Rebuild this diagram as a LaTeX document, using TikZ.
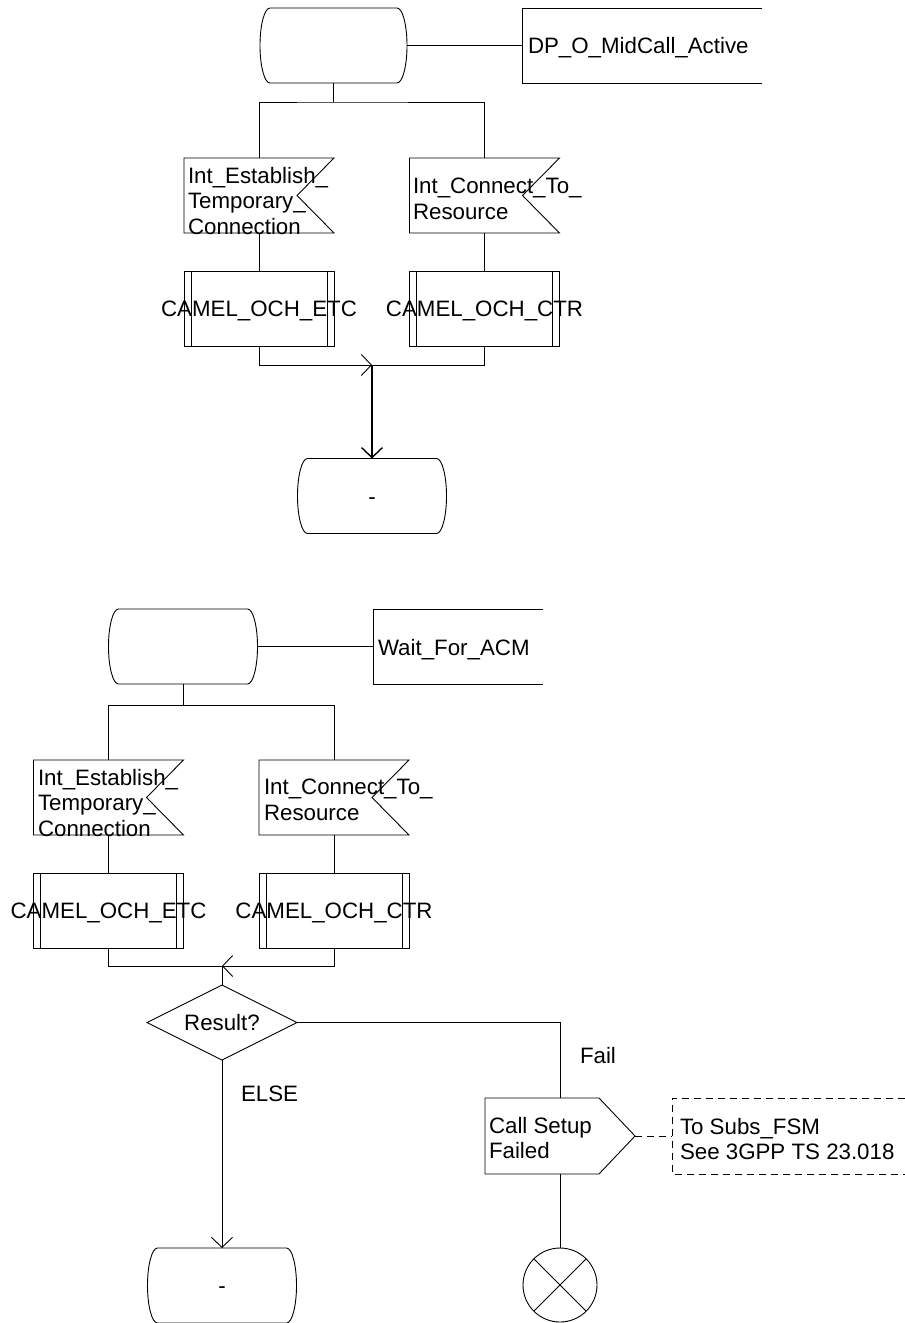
\documentclass[tikz,border=0pt]{standalone}
\usepackage{fontspec}
\setmainfont{Liberation Sans}
\usetikzlibrary{arrows.meta,shapes.geometric}

% outline of an SDL state (straight top/bottom, bulging sides)
\newcommand\drawState[1]{%
  \draw[conn] ([xshift=10pt]#1.north west) -- ([xshift=-10pt]#1.north east)
    arc[start angle=90, end angle=-90, x radius=10pt, y radius=37.5pt]
    -- ([xshift=10pt]#1.south west)
    arc[start angle=270, end angle=90, x radius=10pt, y radius=37.5pt] -- cycle;}
% outline of an SDL input (notch on the right)
\newcommand\drawInput[1]{%
  \draw[conn] (#1.north west) -- (#1.north east) -- ([xshift=-37pt]#1.east)
    -- (#1.south east) -- (#1.south west) -- cycle;}
% outline of an SDL procedure call (double side bars)
\newcommand\drawProc[1]{%
  \draw[conn] (#1.north west) rectangle (#1.south east);
  \draw[conn] ([xshift=7pt]#1.north west) -- ([xshift=7pt]#1.south west);
  \draw[conn] ([xshift=-7pt]#1.north east) -- ([xshift=-7pt]#1.south east);}
% outline of an SDL output (point on the right)
\newcommand\drawOutput[1]{%
  \draw[conn] (#1.north west) -- ([xshift=-36pt]#1.north east) -- (#1.east)
    -- ([xshift=-36pt]#1.south east) -- (#1.south west) -- cycle;}
% open-right comment bracket
\newcommand\drawNote[2][]{%
  \draw[conn,#1] (#2.north east) -- (#2.north west) -- (#2.south west) -- (#2.south east);}

\begin{document}
\begin{tikzpicture}[x=1pt,y=-1pt,
  base/.style={inner sep=0pt, outer sep=0pt, font=\fontsize{22.3}{25.5}\selectfont},
  shp/.style={base, rectangle, minimum height=75pt},
  sdlstate/.style={shp, minimum width=149pt, text height=16pt, text depth=0pt},
  sdlinput/.style={shp, minimum width=150pt},
  sdlproc/.style={shp, minimum width=150pt, text height=16pt, text depth=0pt},
  sdloutput/.style={shp, minimum width=150pt, minimum height=76pt},
  sdlnote/.style={shp},
  sdldecision/.style={base, diamond, aspect=2, draw, conn, minimum width=150pt,
    minimum height=75pt, text height=16pt, text depth=0pt},
  sdlstop/.style={base, circle, draw, conn, minimum size=74pt},
  txt/.style={base, align=left, anchor=north west},
  lbl/.style={base, anchor=base west},
  conn/.style={line width=0.9pt, black},
  arr/.style={conn, -{Straight Barb[length=10pt, width=21pt]}},
  notedash/.style={dash pattern=on 7pt off 5pt},
]
\useasboundingbox (0,0) rectangle (905,1323);

%================ upper diagram ================
\node[sdlstate, minimum width=147pt] (s1) at (333.5,45.5) {};
\drawState{s1}
\node[sdlnote, minimum width=240pt] (c1) at (642,45.5) {};
\drawNote{c1}
\node[lbl] (c1t) at (528,53) {DP\_O\_MidCall\_Active};
\draw[conn] (s1.east) -- (c1.west);

\coordinate (br1) at (333.5,102);
\draw[conn] (s1.south) -- (br1);

\node[sdlinput] (i1) at (259,195.5) {};
\drawInput{i1}
\node[txt] (i1t) at (188,167) {Int\_Establish\_\\Temporary\_\\Connection};
\node[sdlinput] (i2) at (484.5,195.5) {};
\drawInput{i2}
\node[txt] (i2t) at (413,178) {Int\_Connect\_To\_\\Resource};
\draw[conn] (i1.north) |- (br1) -| (i2.north);

\node[sdlproc] (p1) at (259,308.5) {\makebox[0pt]{CAMEL\_OCH\_ETC}};
\drawProc{p1}
\node[sdlproc] (p2) at (484.5,308.5) {\makebox[0pt]{CAMEL\_OCH\_CTR}};
\drawProc{p2}
\draw[conn] (i1.south) -- (p1.north);
\draw[conn] (i2.south) -- (p2.north);

\coordinate (m1) at (372,365);
\node[sdlstate] (s2) at (372,496) {-};
\drawState{s2}
\draw[arr] (p1.south) |- (m1);
\draw[conn] (p2.south) |- (m1);
\draw[arr, line width=1.4pt] (m1) -- (s2.north);

%================ lower diagram ================
\node[sdlstate] (s3) at (183,646.5) {};
\drawState{s3}
\node[sdlnote, minimum width=170pt] (c2) at (458,646.5) {};
\drawNote{c2}
\node[lbl] (c2t) at (378,655) {Wait\_For\_ACM};
\draw[conn] (s3.east) -- (c2.west);

\coordinate (br2) at (183,705);
\draw[conn] (s3.south) -- (br2);

\node[sdlinput] (i3) at (108.5,797.5) {};
\drawInput{i3}
\node[txt] (i3t) at (38,769) {Int\_Establish\_\\Temporary\_\\Connection};
\node[sdlinput] (i4) at (334,797.5) {};
\drawInput{i4}
\node[txt] (i4t) at (264,779) {Int\_Connect\_To\_\\Resource};
\draw[conn] (i3.north) |- (br2) -| (i4.north);

\node[sdlproc] (p3) at (108.5,910.5) {\makebox[0pt]{CAMEL\_OCH\_ETC}};
\drawProc{p3}
\node[sdlproc] (p4) at (334,910.5) {\makebox[0pt]{CAMEL\_OCH\_CTR}};
\drawProc{p4}
\draw[conn] (i3.south) -- (p3.north);
\draw[conn] (i4.south) -- (p4.north);

\coordinate (m2) at (222,966);
\draw[conn] (p3.south) |- (m2);
\draw[arr] (p4.south) |- (m2);

\node[sdldecision] (d1) at (222,1022.5) {Result?};
\draw[conn] (m2) -- (d1.north);

\node[sdlstate] (s4) at (222,1285.5) {-};
\drawState{s4}
\draw[arr] (d1.south) -- (s4.north);
\node[lbl] (elseL) at (241,1101) {ELSE};

\node[sdloutput] (o1) at (560,1136) {};
\drawOutput{o1}
\node[txt] (o1t) at (489,1117) {Call Setup\\Failed};
\draw[conn] (d1.east) -| (o1.north);
\node[lbl] (failL) at (580,1063) {Fail};

\node[sdlnote, minimum width=233pt, minimum height=76pt] (n1) at (788.5,1136) {};
\drawNote[notedash]{n1}
\node[txt] (n1t) at (680,1118) {To Subs\_FSM\\See 3GPP TS 23.018};
\draw[conn, notedash] (o1.east) -- (n1.west);

\node[sdlstop] (t1) at (560,1285) {};
\draw[conn] (t1.north west) -- (t1.south east);
\draw[conn] (t1.north east) -- (t1.south west);
\draw[conn] (o1.south) -- (t1.north);
\end{tikzpicture}
\end{document}
